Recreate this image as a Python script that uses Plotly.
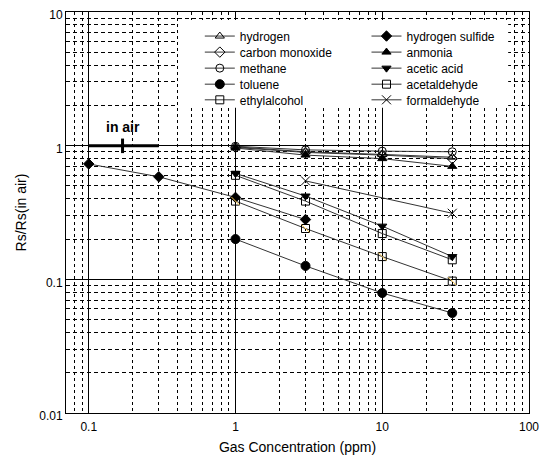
import math
import plotly.graph_objects as go

# ---- data ----
conc4 = [1, 3, 10, 30]
hydrogen = [0.98, 0.90, 0.86, 0.82]
carbon_monoxide = [0.97, 0.89, 0.85, 0.80]
methane = [0.99, 0.93, 0.91, 0.90]
anmonia = [0.96, 0.85, 0.80, 0.70]
toluene = [0.20, 0.126, 0.079, 0.056]
ethylalcohol = [0.60, 0.385, 0.22, 0.14]
acetic_acid = [0.62, 0.42, 0.25, 0.148]
acetaldehyde = [0.385, 0.24, 0.148, 0.097]
conc_h2s = [0.1, 0.3, 1, 3]
hydrogen_sulfide = [0.73, 0.585, 0.41, 0.28]
conc_hcho = [3, 30]
formaldehyde = [0.545, 0.312]

x_ticks = [0.1, 1, 10, 100]
x_tick_text = ["0.1", "1", "10", "100"]
y_ticks = [0.01, 0.1, 1, 10]
y_tick_text = ["0.01", "0.1", "1", "10"]

in_air_x = [0.1, 0.3]
in_air_mid = 0.17
in_air_y = 1.0

LINE = dict(color="#333333", width=1)

# legend layout (paper coords)
LEG_COL_X = [0.289, 0.649]
LEG_ROW_Y = [0.940, 0.900, 0.860, 0.820, 0.781]

fig = go.Figure()
legend_layouts = {}
legend_font = dict(family="Liberation Sans, Arial", size=12, color="black")
_count = [0]

def add(name, x, y, symbol, col, row, size=8, color="black", lw=1):
    _count[0] += 1
    key = "legend" if _count[0] == 1 else f"legend{_count[0]}"
    legend_layouts[key] = dict(
        x=LEG_COL_X[col], y=LEG_ROW_Y[row], xanchor="left", yanchor="middle",
        bgcolor="rgba(0,0,0,0)", font=legend_font, itemclick=False,
        itemdoubleclick=False,
    )
    fig.add_trace(go.Scatter(
        x=x, y=y, name=name, mode="lines+markers",
        line=LINE,
        marker=dict(symbol=symbol, size=size, color=color,
                    line=dict(color="black", width=lw)),
        legend=key,
    ))

# column 1
add("hydrogen", conc4, hydrogen, "triangle-up-open", 0, 0)
add("carbon monoxide", conc4, carbon_monoxide, "diamond-open", 0, 1)
add("methane", conc4, methane, "circle-open", 0, 2)
add("toluene", conc4, toluene, "circle", 0, 3, size=9)
add("ethylalcohol", conc4, ethylalcohol, "square-open", 0, 4)
# column 2
add("hydrogen sulfide", conc_h2s, hydrogen_sulfide, "diamond", 1, 0)
add("anmonia", conc4, anmonia, "triangle-up", 1, 1)
add("acetic acid", conc4, acetic_acid, "triangle-down", 1, 2)
add("acetaldehyde", conc4, acetaldehyde, "square-open", 1, 3)
fig.add_trace(go.Scatter(
    x=conc4, y=acetaldehyde, mode="markers", showlegend=False, hoverinfo="skip",
    marker=dict(symbol="line-nw-open", size=8, line=dict(color="black", width=1)),
))
add("formaldehyde", conc_hcho, formaldehyde, "x-thin-open", 1, 4, size=9)

# minor grid values
minor_x = [k * 10 ** d for d in range(-2, 2) for k in range(2, 10)]
minor_y = [k * 10 ** d for d in range(-2, 1) for k in range(2, 10)]

axis_common = dict(
    type="log", showline=True, linecolor="black", linewidth=1, mirror=True,
    ticks="", showgrid=True, gridcolor="black", gridwidth=1, zeroline=False,
    automargin=False, ticklabeloverflow="allow",
    tickfont=dict(family="Liberation Sans, Arial", size=12, color="black"),
)

fig.update_xaxes(
    **axis_common,
    range=[math.log10(0.07), 2],
    tickmode="array", tickvals=x_ticks, ticktext=x_tick_text,
    ticklabelstandoff=3,
    minor=dict(tickmode="array", tickvals=minor_x, showgrid=True,
               gridcolor="black", gridwidth=1, griddash="3px,3px", ticks=""),
    title=dict(text="Gas Concentration (ppm)", standoff=8,
               font=dict(family="Liberation Sans, Arial", size=14, color="black")),
)
fig.update_yaxes(
    **axis_common,
    range=[-2, 1],
    tickmode="array", tickvals=y_ticks, ticktext=y_tick_text,
    ticklabelshift=3,
    minor=dict(tickmode="array", tickvals=minor_y, showgrid=True,
               gridcolor="black", gridwidth=1, griddash="4px,3px", ticks=""),
    title=dict(text="Rs/Rs(in air)", standoff=9,
               font=dict(family="Liberation Sans, Arial", size=14, color="black")),
)

# white legend background box
fig.add_shape(type="rect", xref="paper", yref="paper", x0=0.242, x1=0.955, y0=0.761, y1=0.980,
              fillcolor="white", line=dict(width=0), layer="above")

# "in air" marker
fig.add_shape(type="line", x0=in_air_x[0], x1=in_air_x[1], y0=in_air_y, y1=in_air_y,
              xref="x", yref="y", line=dict(color="black", width=3))
fig.add_shape(type="line", x0=in_air_mid, x1=in_air_mid, y0=in_air_y * 0.88, y1=in_air_y * 1.13,
              xref="x", yref="y", line=dict(color="black", width=3))
fig.add_annotation(x=math.log10(in_air_mid), y=math.log10(in_air_y * 1.38), text="<b>in air</b>",
                   showarrow=False, xref="x", yref="y",
                   font=dict(family="Liberation Sans, Arial", size=14, color="black"))

fig.update_layout(
    width=545, height=448,
    margin=dict(l=58, r=24, t=4, b=43),
    paper_bgcolor="white", plot_bgcolor="white",
    showlegend=True,
    **legend_layouts,
)

fig.write_html("out.html")
